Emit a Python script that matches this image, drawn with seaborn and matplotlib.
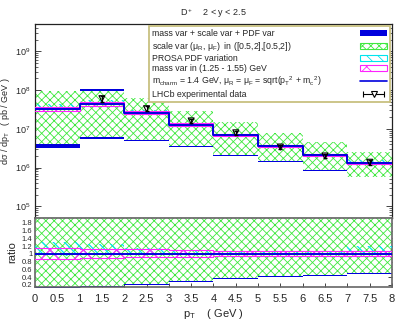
import numpy as np
import seaborn as sns
import matplotlib.pyplot as plt
from matplotlib.patches import Patch
from matplotlib.lines import Line2D
from matplotlib.legend_handler import HandlerLine2D, HandlerTuple
from matplotlib.ticker import LogLocator, NullFormatter

# bin edges in pT (GeV)
edges = [0, 1, 2, 3, 4, 5, 6, 7, 8]

# central prediction, m_c = 1.4 GeV (pb/GeV)
central = [3.3e7, 4.4e7, 2.6e7, 1.27e7, 6.9e6, 3.6e6, 2.1e6, 1.32e6]

# mass + scale + PDF band
totalLow = [3.2e6, 5.6e6, 4.8e6, 3.4e6, 2.0e6, 1.42e6, 8.3e5, 5.6e5]
totalHigh = [9.6e7, 1.08e8, 6.4e7, 2.95e7, 1.52e7, 8.0e6, 4.65e6, 2.52e6]

# scale variation band
scaleLow = [4.1e6, 6.2e6, 5.1e6, 3.6e6, 2.1e6, 1.48e6, 8.7e5, 5.8e5]
scaleHigh = [9.6e7, 9.6e7, 6.3e7, 2.9e7, 1.5e7, 7.9e6, 4.6e6, 2.5e6]

# ratio panel bands (relative to central)
rTotalLow = [0.10, 0.155, 0.20, 0.27, 0.35, 0.40, 0.44, 0.49]
rTotalHigh = [3.0, 2.9, 2.5, 2.4, 2.3, 2.3, 2.3, 2.0]
rScaleLow = [0.12, 0.18, 0.22, 0.29, 0.37, 0.42, 0.46, 0.51]
rScaleHigh = [2.9, 2.2, 2.4, 2.3, 2.2, 2.2, 2.2, 1.95]
rPdfLow = [0.95, 0.96, 0.97, 0.97, 0.97, 0.97, 0.97, 0.96]
rPdfHigh = [1.31, 1.25, 1.15, 1.08, 1.07, 1.07, 1.08, 1.21]
rMassLow = [0.87, 0.89, 0.91, 0.93, 0.94, 0.94, 0.94, 0.94]
rMassHigh = [1.14, 1.13, 1.12, 1.10, 1.08, 1.08, 1.08, 1.08]

# LHCb data
dataX = [1.5, 2.5, 3.5, 4.5, 5.5, 6.5, 7.5]
dataY = [6.0e7, 3.3e7, 1.6e7, 7.9e6, 3.4e6, 2.0e6, 1.38e6]
dataErr = [1.0e7, 5.0e6, 2.2e6, 1.1e6, 4.5e5, 2.6e5, 1.8e5]

sns.set_theme(style="ticks")
plt.rcParams['font.family'] = ['Liberation Sans', 'DejaVu Sans']
plt.rcParams['mathtext.fontset'] = 'custom'
plt.rcParams['mathtext.rm'] = 'Liberation Sans'
plt.rcParams['mathtext.it'] = 'Liberation Sans'
plt.rcParams['mathtext.default'] = 'regular'
plt.rcParams['hatch.linewidth'] = 0.6

BLUE = '#0000dd'
GREEN = '#3ee83e'
CYAN = '#00e5ee'
MAGENTA = '#ff22ff'


def ext(vals):
	return list(vals) + [vals[-1]]


def drawBands(ax, tLo, tHi, sLo, sHi, pLo, pHi, mLo, mHi, cen):
	ax.fill_between(edges, ext(tLo), ext(tHi), step='post', color=BLUE, lw=0, zorder=1)
	ax.fill_between(edges, ext(sLo), ext(sHi), step='post', facecolor='white',
					edgecolor=GREEN, hatch='xxxx', lw=0, zorder=2)
	with plt.rc_context({'hatch.linewidth': 0.9}):
		ax.fill_between(edges, ext(pLo), ext(pHi), step='post', facecolor='none',
						edgecolor=CYAN, hatch='\\\\\\', lw=0, zorder=3)
		ax.fill_between(edges, ext(mLo), ext(mHi), step='post', facecolor='none',
						edgecolor=MAGENTA, hatch='x', lw=0, zorder=4)
	ax.step(edges, ext(mLo), where='post', color=MAGENTA, lw=0.8, zorder=4)
	ax.step(edges, ext(mHi), where='post', color=MAGENTA, lw=0.8, zorder=4)
	sns.lineplot(x=edges, y=ext(cen), drawstyle='steps-post', color=BLUE, lw=1.4, ax=ax, zorder=5)


fig = plt.figure(figsize=(4.07, 3.26), dpi=100)
ax = fig.add_axes([0.086, 0.331, 0.877, 0.595])
axr = fig.add_axes([0.086, 0.120, 0.877, 0.211])

cen = np.array(central)
drawBands(ax, totalLow, totalHigh, scaleLow, scaleHigh,
		  cen * np.array(rPdfLow), cen * np.array(rPdfHigh),
		  cen * np.array(rMassLow), cen * np.array(rMassHigh), central)
ax.errorbar(dataX, dataY, yerr=dataErr, fmt='none', ecolor='black', elinewidth=0.8,
			capsize=1.5, zorder=6)
sns.scatterplot(x=dataX, y=dataY, marker='v', s=18, facecolor='none', edgecolor='black',
				linewidth=0.8, ax=ax, zorder=7)

ones = [1.0] * 8
drawBands(axr, rTotalLow, rTotalHigh, rScaleLow, rScaleHigh, rPdfLow, rPdfHigh,
		  rMassLow, rMassHigh, ones)

ax.set_yscale('log')
ax.set_ylim(5e4, 5e9)
ax.set_xlim(0, 8)
ax.set_xticks([])
ax.yaxis.set_major_locator(LogLocator(base=10, numticks=10))
ax.yaxis.set_minor_locator(LogLocator(base=10, subs=np.arange(2, 10), numticks=10))
ax.yaxis.set_minor_formatter(NullFormatter())
ax.tick_params(axis='y', which='both', direction='in', left=True, right=True, labelsize=6.5)
ax.tick_params(axis='y', which='major', length=4, width=0.6)
ax.tick_params(axis='y', which='minor', length=2, width=0.5)
ax.set_ylabel('d\u03c3 / dp$_T$   ( pb / GeV )', fontsize=6.5, labelpad=2)
ax.set_title('D$^+$    2 < y < 2.5', fontsize=6.5, pad=6)
for s in ax.spines.values():
	s.set_linewidth(0.9)
	s.set_color('#222222')

axr.set_xlim(0, 8)
axr.set_ylim(0.15, 1.92)
axr.set_xticks(np.arange(0, 8.01, 0.5))
axr.set_xticklabels(['0', '0.5', '1', '1.5', '2', '2.5', '3', '3.5', '4', '4.5',
					 '5', '5.5', '6', '6.5', '7', '7.5', '8'])
axr.set_yticks([0.2, 0.4, 0.6, 0.8, 1.0, 1.2, 1.4, 1.6, 1.8])
axr.set_yticklabels(['0.2', '0.4', '0.6', '0.8', '1', '1.2', '1.4', '1.6', '1.8'])
axr.tick_params(axis='x', direction='in', length=3, width=0.6, labelsize=8, pad=5)
axr.tick_params(axis='y', direction='in', left=True, right=True, length=3, width=0.6,
				labelsize=5.5, pad=2)
axr.set_ylabel('ratio', fontsize=8, labelpad=3)
axr.set_xlabel('p$_T$    ( GeV )', fontsize=8, labelpad=2)
for s in axr.spines.values():
	s.set_linewidth(1.2)
	s.set_color('#666666')

# data key: horizontal bar with end caps and an open triangle in the middle
capLine = Line2D([], [], color='black', lw=0.8, marker='|', ms=4, mew=0.8)
triMark = Line2D([], [], ls='none', marker='v', ms=4, mfc='white', mec='black', mew=0.8)

handles = [
	Patch(facecolor=BLUE, edgecolor=BLUE, lw=0),
	Patch(facecolor='white', edgecolor=GREEN, hatch='xxxx', lw=0.8),
	Patch(facecolor='white', edgecolor=CYAN, hatch='\\\\\\', lw=0.8),
	Patch(facecolor='white', edgecolor=MAGENTA, hatch='x', lw=0.8),
	Line2D([], [], color=BLUE, lw=1.2),
	(capLine, triMark),
]
labels = [
	'mass var + scale var + PDF var',
	'scale var ($\\mu_R$, $\\mu_F$)  in ([0.5,2],[0.5,2])',
	'PROSA PDF variation',
	'mass var in (1.25 - 1.55) GeV',
	'm$_{charm}$ = 1.4 GeV, $\\mu_R$ = $\\mu_F$ = sqrt(p$_T$$^2$ + m$_c$$^2$)',
	'LHCb experimental data',
]
leg = ax.legend(handles, labels, loc='upper right', markerfirst=False, fontsize=6.3,
				frameon=True, fancybox=False, framealpha=1, edgecolor='#c8c080',
				handlelength=3.0, handleheight=0.7, labelspacing=0.15, borderpad=0.35,
				handletextpad=4.5, borderaxespad=0.25,
				handler_map={capLine: HandlerLine2D(numpoints=2),
							 triMark: HandlerLine2D(numpoints=1),
							 tuple: HandlerTuple(ndivide=1)})
leg.get_frame().set_linewidth(1.3)

# left-align legend texts while keeping samples on the right
fig.canvas.draw()
renderer = fig.canvas.get_renderer()
widths = [t.get_window_extent(renderer).width for t in leg.get_texts()]
items = leg._legend_handle_box.get_children()[0].get_children()
for hp, w in zip(items, widths):
	hp.sep = hp.sep + (max(widths) - w) * 72 / fig.dpi

fig.savefig('out.png', dpi=100)
